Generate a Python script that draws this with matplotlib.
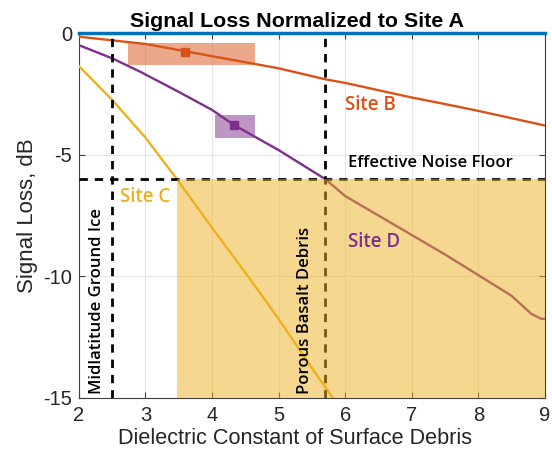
import matplotlib
matplotlib.use("Agg")
import matplotlib.pyplot as plt
import numpy as np

# Data
site_a_x = [2, 9]
site_a_y = [0, 0]

site_b_x = [2, 2.5, 3, 3.5, 4, 4.5, 5, 5.7, 6, 6.5, 7, 7.5, 8, 8.5, 9]
site_b_y = [-0.15, -0.3, -0.45, -0.7, -0.95, -1.2, -1.45, -1.9, -2.05, -2.35, -2.65, -2.92, -3.2, -3.5, -3.8]

site_c_x = [2, 2.5, 3, 3.47, 4, 4.5, 5, 5.42, 5.84]
site_c_y = [-1.36, -2.75, -4.3, -6.0, -8.0, -9.85, -11.75, -13.45, -15.1]

site_d_x = [2, 2.5, 2.92, 3.5, 4, 4.33, 5, 5.64, 5.7, 6, 6.5, 7, 7.5, 8, 8.5, 8.8, 8.95, 9]
site_d_y = [-0.5, -1.04, -1.59, -2.42, -3.16, -3.78, -4.81, -5.9, -6.0, -6.7, -7.5, -8.3, -9.1, -9.95, -10.8, -11.55, -11.75, -11.75]

b_marker = (3.6, -0.8)
b_box = (2.73, 4.64, -1.32, -0.42)
d_marker = (4.33, -3.78)
d_box = (4.04, 4.64, -4.3, -3.35)

noise_floor = -6
ice_x = 2.49
basalt_x = 5.7
shade_x = (3.47, 9)

blue = '#0072BD'
orange = '#D95319'
yellow = '#EDB120'
purple = '#7E2F8E'

plt.rcParams['font.family'] = ['Liberation Sans', 'DejaVu Sans']
plt.rcParams['axes.unicode_minus'] = False

fig = plt.figure(figsize=(5.52, 4.5), dpi=100)
ax = fig.add_axes([0.143, 0.1156, 0.844, 0.811])

lw = 1.7
ax.plot(site_b_x, site_b_y, color=orange, lw=lw, zorder=3)
ax.plot(site_c_x, site_c_y, color=yellow, lw=lw, zorder=3)
ax.plot(site_d_x, site_d_y, color=purple, lw=lw, zorder=3)
ax.plot(site_a_x, site_a_y, color=blue, lw=2.5, zorder=4, clip_on=False)

ax.fill_between([b_box[0], b_box[1]], b_box[2], b_box[3], color=orange, alpha=0.5, lw=0, zorder=2)
ax.fill_between([d_box[0], d_box[1]], d_box[2], d_box[3], color=purple, alpha=0.5, lw=0, zorder=2)
ax.plot([b_marker[0]], [b_marker[1]], 's', color=orange, ms=6, zorder=4)
ax.plot([d_marker[0]], [d_marker[1]], 's', color=purple, ms=6, zorder=4)

ax.axhline(noise_floor, color='black', ls=(0, (3, 2.5)), lw=2, zorder=3)
ax.axvline(ice_x, color='black', ls=(0, (3, 2.5)), lw=2, zorder=3)
ax.axvline(basalt_x, color='black', ls=(0, (3, 2.5)), lw=2, zorder=3)

ax.fill_between([shade_x[0], shade_x[1]], -15, noise_floor, color=yellow, alpha=0.5, lw=0, zorder=5)

ofam = ['Open Sans', 'DejaVu Sans']
tfont = dict(family=ofam, fontweight='semibold', fontsize=13.5, zorder=6)
ax.text(6.0, -2.95, 'Site B', color=orange, va='center', ha='left', **tfont)
ax.text(2.62, -6.75, 'Site C', color=yellow, va='center', ha='left', **tfont)
ax.text(6.04, -8.6, 'Site D', color=purple, va='center', ha='left', **tfont)
ax.text(6.04, -5.35, 'Effective Noise Floor', color='black', va='center', ha='left',
        family=ofam, fontweight='semibold', fontsize=12, zorder=6)
ax.text(2.27, -14.85, 'Midlatitude Ground Ice', rotation=90, color='black', va='bottom', ha='center',
        family=ofam, fontweight='semibold', fontsize=12, zorder=6)
ax.text(5.4, -14.85, 'Porous Basalt Debris', rotation=90, color='black', va='bottom', ha='center',
        family=ofam, fontweight='semibold', fontsize=12, zorder=6)

ax.set_xlim(2, 9)
ax.set_ylim(-15, 0)
ax.set_xticks(range(2, 10))
ax.set_yticks([-15, -10, -5, 0])
ax.tick_params(direction='in', labelsize=14.5, length=4, color='#404040', labelcolor='#262626',
               top=True, right=True)
ax.tick_params(axis='x', pad=6)
ax.tick_params(axis='y', pad=5)
ax.grid(True, color='#e6e6e6', lw=0.8, zorder=0)
ax.set_axisbelow(True)
for s in ax.spines.values():
    s.set_color('#404040')
    s.set_linewidth(0.8)

ax.set_xlabel('Dielectric Constant of Surface Debris', fontsize=15.6, color='#262626')
ax.xaxis.set_label_coords(0.4635, -0.082, transform=ax.transAxes)
ax.xaxis.label.set_va('top')
ax.set_ylabel('Signal Loss, dB', fontsize=16, color='#262626')
ax.yaxis.set_label_coords(-0.088, 0.5, transform=ax.transAxes)
ax.set_title('Signal Loss Normalized to Site A', fontsize=15.4, fontweight='bold', pad=4, x=0.469)

fig.savefig('out.png', dpi=100)
